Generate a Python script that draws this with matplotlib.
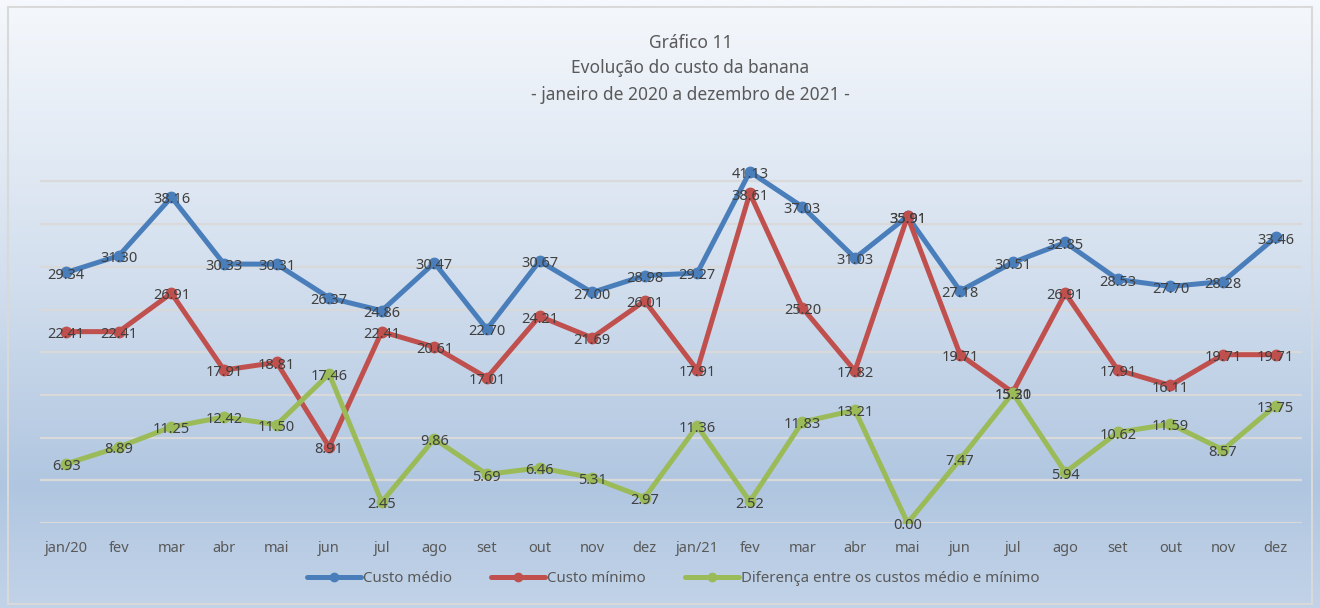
import numpy as np
import matplotlib.pyplot as plt
from matplotlib.colors import LinearSegmentedColormap
from matplotlib.patches import Rectangle

meses = ["jan/20", "fev", "mar", "abr", "mai", "jun", "jul", "ago", "set", "out", "nov", "dez",
         "jan/21", "fev", "mar", "abr", "mai", "jun", "jul", "ago", "set", "out", "nov", "dez"]

custo_medio = [29.34, 31.30, 38.16, 30.33, 30.31, 26.37, 24.86, 30.47, 22.70, 30.67, 27.00, 28.98,
               29.27, 41.13, 37.03, 31.03, 35.91, 27.18, 30.51, 32.85, 28.53, 27.70, 28.28, 33.46]
custo_minimo = [22.41, 22.41, 26.91, 17.91, 18.81, 8.91, 22.41, 20.61, 17.01, 24.21, 21.69, 26.01,
                17.91, 38.61, 25.20, 17.82, 35.91, 19.71, 15.30, 26.91, 17.91, 16.11, 19.71, 19.71]
diferenca = [6.93, 8.89, 11.25, 12.42, 11.50, 17.46, 2.45, 9.86, 5.69, 6.46, 5.31, 2.97,
             11.36, 2.52, 11.83, 13.21, 0.00, 7.47, 15.21, 5.94, 10.62, 11.59, 8.57, 13.75]

series = [
    ("Custo médio", custo_medio, "#4a7ebb"),
    ("Custo mínimo", custo_minimo, "#c0504d"),
    ("Diferença entre os custos médio e mínimo", diferenca, "#9bbb59"),
]

plt.rcParams['font.family'] = ['Noto Sans', 'DejaVu Sans']
txt = "#595959"

fig = plt.figure(figsize=(13.2, 6.08), dpi=100)

# gradient background of the chart area
bg = fig.add_axes([0, 0, 1, 1], zorder=-10)
cmap = LinearSegmentedColormap.from_list("bg", [(0, "#f5f8fc"), (0.45, "#d3dfee"),
                                                (0.8, "#b0c6e0"), (1, "#c2d3e8")])
grad = np.linspace(0, 1, 256).reshape(-1, 1)
bg.imshow(grad, aspect="auto", cmap=cmap, extent=[0, 1, 0, 1], origin="upper")
bg.set_xlim(0, 1)
bg.set_ylim(0, 1)
bg.axis("off")
fig.patches.append(Rectangle((0.006, 0.006), 0.988, 0.982, transform=fig.transFigure,
                             fill=False, edgecolor="#d9d9d9", linewidth=1.5))

ax = fig.add_axes([0.0303, 0.1398, 0.956, 0.632])
ax.patch.set_alpha(0)
x = np.arange(len(meses))

for nome, vals, cor in series:
    ax.plot(x, vals, color=cor, linewidth=3.6, marker="o", markersize=7.5,
            label=nome, zorder=3, solid_capstyle="round")
    for xi, v in zip(x, vals):
        ax.annotate(f"{v:.2f}", (xi, v), xytext=(0, -2), textcoords="offset points",
                    ha="center", va="center", fontsize=10.5, color="#404040", zorder=5)

ax.set_xlim(-0.5, len(meses) - 0.5)
ax.set_ylim(0, 45)
ax.set_yticks(np.arange(0, 41, 5))
ax.yaxis.grid(True, color="#d9d9d9", linewidth=1.6)
ax.set_axisbelow(True)
ax.tick_params(axis="y", left=False, labelleft=False)
ax.set_xticks(x)
ax.set_xticklabels(meses, fontsize=10.5, color=txt)
ax.tick_params(axis="x", length=0, pad=13)
for s in ax.spines.values():
    s.set_visible(False)

fig.text(0.523, 0.930, "Gráfico 11", ha="center", va="center", fontsize=12.5, color=txt)
fig.text(0.523, 0.888, "Evolução do custo da banana", ha="center", va="center", fontsize=12.5, color=txt)
fig.text(0.523, 0.844, "- janeiro de 2020 a dezembro de 2021 -", ha="center", va="center",
         fontsize=12.5, color=txt)

leg = fig.legend(loc="center", bbox_to_anchor=(0.510, 0.048), ncol=3, frameon=False,
                 fontsize=10.8, handlelength=3.6, handletextpad=0.15, columnspacing=2.6,
                 markerscale=0.8)
for t in leg.get_texts():
    t.set_color(txt)

fig.savefig("out.png", dpi=100)
